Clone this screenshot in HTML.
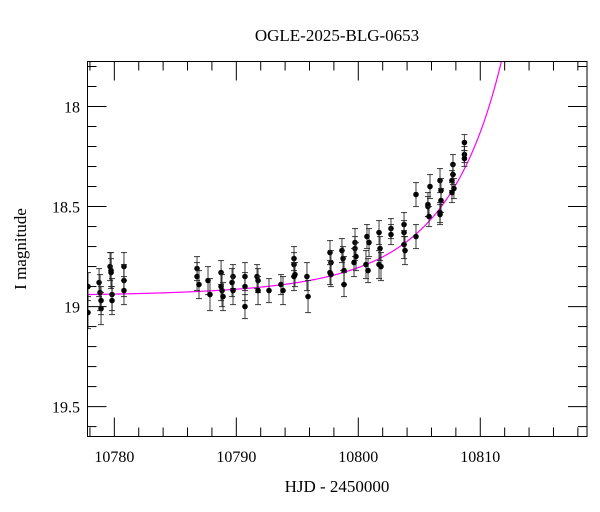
<!DOCTYPE html>
<html><head><meta charset="utf-8"><style>
html,body{margin:0;padding:0;background:#fff;}
svg{display:block;font-family:"Liberation Serif","DejaVu Serif",serif;}
</style></head><body>
<svg id="chart" width="600" height="512">
<text x="337" y="41" text-anchor="middle" font-size="17">OGLE-2025-BLG-0653</text>
<text x="337" y="492" text-anchor="middle" font-size="17">HJD - 2450000</text>
<text transform="translate(26,249) rotate(-90)" text-anchor="middle" font-size="17">I magnitude</text>
<g id="axes"></g>
<g id="model"></g>
<g id="data"></g>
<rect x="87.5" y="61.5" width="499.5" height="375" fill="none" stroke="#000" stroke-width="1"/>
</svg>
<script>
const hjd = [10777.84,10777.84,10778.75,10778.83,10778.91,10778.91,10779.65,10779.73,10779.81,10779.81,10779.73,10780.79,10780.79,10780.79,
10786.78,10786.78,10786.94,10787.68,10787.84,10788.75,10788.75,10788.83,10788.91,10789.73,10789.65,10789.73,10790.71,10790.71,10790.71,
10791.70,10791.78,10791.78,10792.68,10793.66,10793.83,10794.73,10794.73,10794.81,10794.73,10795.79,10795.88,
10797.68,10797.76,10797.76,10797.68,10798.66,10798.75,10798.83,10798.83,10799.73,10799.73,10799.81,10799.65,
10800.71,10800.88,10800.63,10800.80,10801.70,10801.78,10801.70,10801.86,10802.68,10802.68,10803.75,10803.75,10803.75,10803.83,
10804.73,10804.73,10805.71,10805.88,10805.71,10805.80,10806.70,10806.78,10806.78,10806.70,10806.70,
10807.76,10807.76,10807.68,10807.84,10807.68,10808.70,10808.70,10808.70];
const mag = [18.90,19.03,18.88,18.93,19.01,18.97,18.80,18.82,18.94,18.97,18.83,18.80,18.87,18.92,
18.81,18.85,18.89,18.87,18.94,18.83,18.90,18.92,18.95,18.85,18.88,18.92,18.85,18.90,19.00,
18.85,18.87,18.92,18.92,18.89,18.92,18.76,18.79,18.84,18.85,18.85,18.95,
18.73,18.78,18.84,18.83,18.72,18.76,18.82,18.89,18.68,18.71,18.75,18.78,
18.65,18.68,18.79,18.82,18.63,18.71,18.79,18.80,18.61,18.64,18.59,18.63,18.69,18.72,
18.44,18.65,18.49,18.40,18.50,18.55,18.37,18.42,18.47,18.53,18.54,
18.29,18.34,18.37,18.41,18.43,18.18,18.24,18.26];
const err = [0.07,0.08,0.07,0.09,0.08,0.07,0.07,0.09,0.08,0.07,0.07,0.07,0.08,0.07,
0.06,0.07,0.07,0.07,0.08,0.06,0.07,0.08,0.07,0.06,0.07,0.07,0.07,0.07,0.06,
0.06,0.06,0.07,0.06,0.05,0.07,0.06,0.06,0.06,0.07,0.07,0.08,
0.06,0.06,0.06,0.06,0.06,0.06,0.07,0.06,0.07,0.06,0.07,0.07,
0.06,0.07,0.07,0.06,0.06,0.06,0.07,0.07,0.05,0.05,0.06,0.06,0.07,0.07,
0.06,0.06,0.06,0.06,0.05,0.05,0.06,0.06,0.06,0.05,0.05,
0.05,0.05,0.05,0.05,0.05,0.04,0.04,0.04];
const xTicks = [10780,10790,10800,10810];
const yTicks = [18,18.5,19,19.5];
const model = {t0:10815.3, tE:10.5, u0:0.1, fs:1.0, base:18.95};

const NS='http://www.w3.org/2000/svg';
const L=87.5,R=587,T=61.5,B=436.5;
const X0=10777.8,X1=10818.75,Y0=17.775,Y1=19.6495;
const sx=v=>L+(v-X0)/(X1-X0)*(R-L);
const sy=v=>T+(v-Y0)/(Y1-Y0)*(B-T);
function mk(tag,attrs,parent){const e=document.createElementNS(NS,tag);for(const k in attrs)e.setAttribute(k,attrs[k]);parent.appendChild(e);return e;}
const axes=document.getElementById('axes');
// x ticks (minor every 2 days)
for(let d=10778;d<=10818;d+=2){
  const x=sx(d);const major=(d%10===0);const len=major?19:9;
  const t1=mk('line',{x1:x,x2:x,y1:B,y2:B-len,stroke:'#000','stroke-width':1},axes);
  
  
  const t2=mk('line',{x1:x,x2:x,y1:T,y2:T+len,stroke:'#000','stroke-width':1},axes);
  
  
}
xTicks.forEach(v=>{
  const t=mk('text',{x:sx(v),y:462,'text-anchor':'middle','font-size':16},axes);
  t.textContent=String(v);
  
  
});
// y ticks (minor every 0.1)
for(let i=18;i<=196;i++){
  const v=i/10; if(v<Y0||v>Y1) continue;
  const y=sy(v);const major=(i%5===0);const len=major?19:9;
  const t1=mk('line',{x1:L,x2:L+len,y1:y,y2:y,stroke:'#000','stroke-width':1},axes);
  
  
  const t2=mk('line',{x1:R,x2:R-len,y1:y,y2:y,stroke:'#000','stroke-width':1},axes);
  
  
}
yTicks.forEach(v=>{
  const t=mk('text',{x:80,y:sy(v)+6,'text-anchor':'end','font-size':16},axes);
  t.textContent=String(v);
  
  
});
// model curve
function modelMag(t){
  const tau=(t-model.t0)/model.tE;
  const u=Math.sqrt(model.u0*model.u0+tau*tau);
  const A=(u*u+2)/(u*Math.sqrt(u*u+4));
  return model.base-2.5*Math.log10(model.fs*(A-1)+1);
}
let d='';
for(let t=X0;t<=X1;t+=0.05){
  const m=modelMag(t);
  if(m<Y0-0.05) break;
  d+=(d?'L':'M')+sx(t).toFixed(2)+','+sy(m).toFixed(2);
}
const clip=mk('clipPath',{id:'pc'},document.getElementById('chart'));
mk('rect',{x:L,y:T,width:R-L,height:B-T},clip);
const mp=mk('path',{d:d,fill:'none',stroke:'#ff00ff','stroke-width':1.2,'clip-path':'url(#pc)'},document.getElementById('model'));


// data points
const dg=document.getElementById('data');
hjd.forEach((t,i)=>{
  const x=sx(t),y=sy(mag[i]),y1=sy(mag[i]-err[i]),y2=sy(mag[i]+err[i]);
  const g=mk('g',{'clip-path':'url(#pc)'},dg);
  
  
  mk('line',{x1:x,x2:x,y1:y1,y2:y2,stroke:'#222','stroke-width':1.1,'stroke-opacity':0.8},g);
  mk('line',{x1:x-3,x2:x+3,y1:y1,y2:y1,stroke:'#222','stroke-width':1.1,'stroke-opacity':0.8},g);
  mk('line',{x1:x-3,x2:x+3,y1:y2,y2:y2,stroke:'#222','stroke-width':1.1,'stroke-opacity':0.8},g);
  mk('circle',{cx:x,cy:y,r:2.8,fill:'#000'},g);
});
</script>
</body></html>
